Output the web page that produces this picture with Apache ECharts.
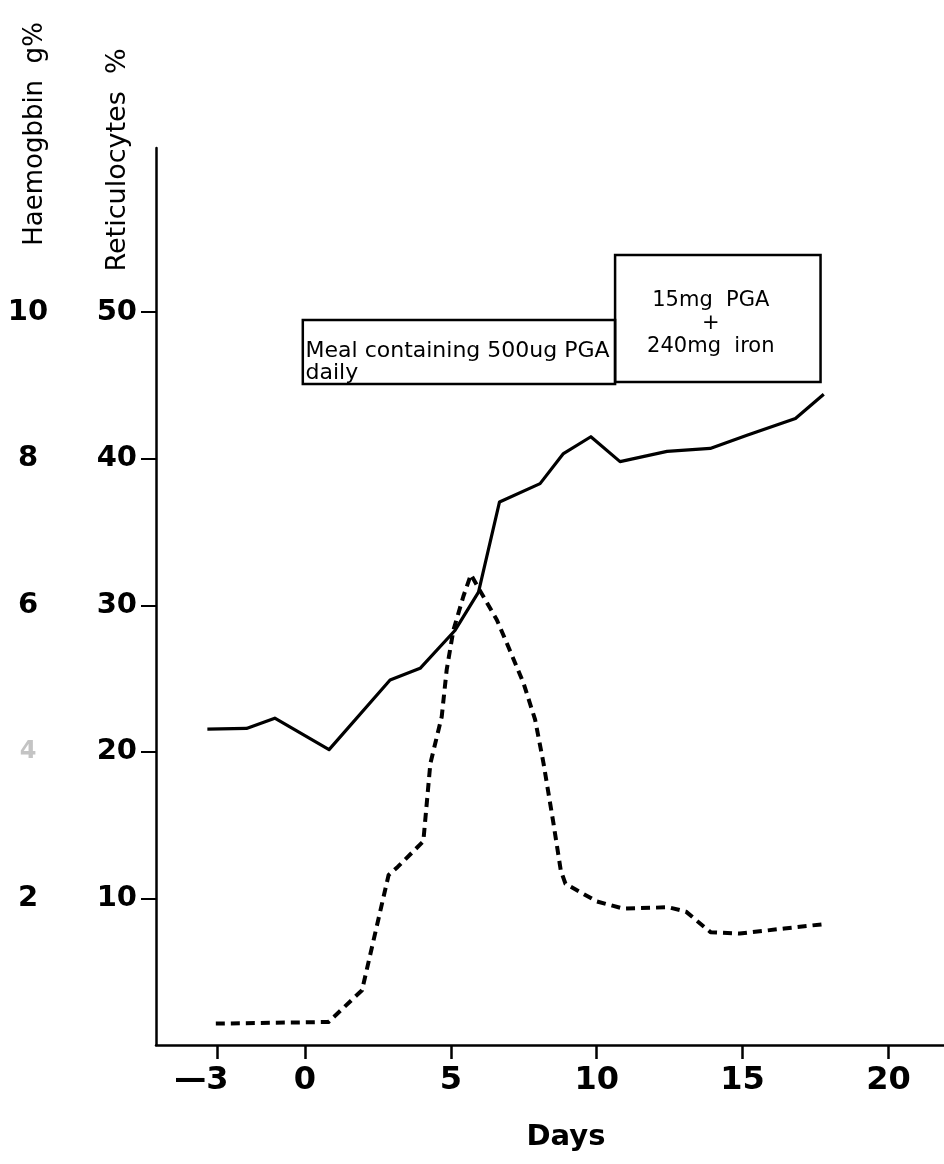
<!DOCTYPE html>
<html>
<head>
<meta charset="utf-8">
<script src="https://cdn.jsdelivr.net/npm/echarts@6/dist/echarts.min.js"></script>
<style>
  html, body { margin: 0; padding: 0; background: #fff; }
  #chart { width: 944px; height: 1164px; }
</style>
</head>
<body>
<div id="chart"></div>
<script>
// Haemoglobin (g%) by day
const hbDays   = [-3.34, -2.0, -1.03, 0.83, 2.92, 3.95, 5.15, 5.95, 6.67, 8.06, 8.86, 9.8, 10.8, 12.41, 13.89, 15.15, 16.81, 17.78];
const hbValues = [4.31, 4.32, 4.46, 4.03, 4.98, 5.14, 5.66, 6.18, 7.41, 7.66, 8.07, 8.3, 7.96, 8.1, 8.14, 8.32, 8.55, 8.88];

// Reticulocytes (%) by day
const retDays   = [-3.05, 0.81, 1.96, 2.87, 3.18, 4.06, 4.3, 4.69, 4.86, 5.09, 5.43, 5.69, 6.0, 6.58, 7.03, 7.49, 7.89, 8.18, 8.52, 8.77, 8.93, 10.0, 10.92, 12.45, 13.06, 13.9, 14.9, 16.43, 17.8];
const retValues = [1.46, 1.57, 3.74, 11.6, 12.15, 13.9, 19.2, 22.4, 25.6, 28.3, 30.6, 32.1, 31.0, 29.0, 26.9, 24.7, 22.2, 19.2, 15.1, 11.9, 11.0, 9.8, 9.3, 9.4, 9.1, 7.7, 7.6, 7.95, 8.25];

// Treatment periods (days)
const periodStart  = [-0.07, 10.63];
const periodEnd    = [10.63, 17.67];
const periodLabels = ['Meal containing 500ug PGA\ndaily', '15mg  PGA\n+\n240mg  iron'];

// Tick labels
const dayTicks = [-3, 0, 5, 10, 15, 20];
const retTicks = [10, 20, 30, 40, 50];
const hbTicks  = [2, 4, 6, 8, 10];

const FONT = 'DejaVu Sans';
const X_MIN = -5.1, X_MAX = 21.9;
const RET_MAX = 61.2, HB_MAX = RET_MAX / 5;

const chart = echarts.init(document.getElementById('chart'), null, { renderer: 'canvas' });

const zip = (xs, ys) => xs.map((x, i) => [x, ys[i]]);

// vertical extent of each treatment box on the reticulocyte scale
const boxTop = [49.47, 53.9];
const boxBottom = [45.1, 45.24];
const boxLabel = [
  { show: true, position: 'insideBottomLeft', distance: 1, offset: [3, 0],
    fontFamily: FONT, fontSize: 22, lineHeight: 22, color: '#000', align: 'left' },
  { show: true, position: 'inside', offset: [-7, 5],
    fontFamily: FONT, fontSize: 21, lineHeight: 23, color: '#000', align: 'center' }
];

const option = {
  animation: false,
  backgroundColor: '#fff',
  grid: { left: 156, right: 0, top: 148, bottom: 119 },
  xAxis: {
    type: 'value',
    min: X_MIN,
    max: X_MAX,
    axisLine: { onZero: false, lineStyle: { color: '#000', width: 2.5 } },
    axisTick: { customValues: dayTicks, length: 14, lineStyle: { color: '#000', width: 2.5 } },
    axisLabel: {
      customValues: dayTicks,
      margin: 20,
      color: '#000',
      fontFamily: FONT,
      fontWeight: 'bold',
      fontSize: 32,
      formatter: v => v < 0 ? '{neg|\u2014' + Math.abs(v) + '}' : String(v),
      rich: { neg: { fontFamily: FONT, fontWeight: 'bold', fontSize: 32, color: '#000', padding: [0, 32, 0, 0] } }
    },
    splitLine: { show: false }
  },
  yAxis: [
    {
      type: 'value',
      position: 'left',
      offset: 0,
      min: 0,
      max: RET_MAX,
      axisLine: { show: true, onZero: false, lineStyle: { color: '#000', width: 2.5 } },
      axisTick: { show: true, customValues: retTicks, length: 15, lineStyle: { color: '#000', width: 2 } },
      axisLabel: {
        customValues: retTicks,
        margin: 19,
        color: '#000',
        fontFamily: FONT,
        fontWeight: 'bold',
        fontSize: 29
      },
      splitLine: { show: false }
    },
    {
      type: 'value',
      position: 'left',
      offset: 0,
      min: 0,
      max: HB_MAX,
      axisLine: { show: false, onZero: false },
      axisTick: { show: false },
      axisLabel: {
        customValues: hbTicks,
        margin: 128,
        align: 'center',
        color: '#000',
        fontFamily: FONT,
        fontWeight: 'bold',
        fontSize: 29,
        formatter: v => v === 4 ? '{faint|4}' : String(v),
        rich: { faint: { fontFamily: FONT, fontSize: 24, color: '#c4c4c4' } }
      },
      splitLine: { show: false }
    }
  ],
  graphic: [
    {
      type: 'text', x: 35, y: 134, rotation: Math.PI / 2,
      style: { text: 'Haemogbbin  g%', fontFamily: FONT, fontSize: 26, fill: '#000', align: 'center', verticalAlign: 'middle' }
    },
    {
      type: 'text', x: 118, y: 160, rotation: Math.PI / 2,
      style: { text: 'Reticulocytes  %', fontFamily: FONT, fontSize: 27, fill: '#000', align: 'center', verticalAlign: 'middle' }
    },
    {
      type: 'text', x: 566, y: 1137,
      style: { text: 'Days', fontFamily: FONT, fontWeight: 'bold', fontSize: 29, fill: '#000', align: 'center', verticalAlign: 'middle' }
    }
  ],
  series: [
    {
      name: 'Haemoglobin',
      type: 'line',
      yAxisIndex: 1,
      data: zip(hbDays, hbValues),
      symbol: 'none',
      lineStyle: { color: '#000', width: 3.2, join: 'round' },
      z: 3
    },
    {
      name: 'Reticulocytes',
      type: 'line',
      yAxisIndex: 0,
      data: zip(retDays, retValues),
      symbol: 'none',
      lineStyle: { color: '#000', width: 4, type: [9, 6], join: 'round' },
      z: 3,
      markArea: {
        silent: true,
        itemStyle: { color: 'rgba(0,0,0,0)', borderColor: '#000', borderWidth: 2.5 },
        data: periodStart.map((s, i) => [
          { name: periodLabels[i], xAxis: s, yAxis: boxTop[i], label: boxLabel[i] },
          { xAxis: periodEnd[i], yAxis: boxBottom[i] }
        ])
      }
    }
  ]
};

chart.setOption(option);
</script>
</body>
</html>
